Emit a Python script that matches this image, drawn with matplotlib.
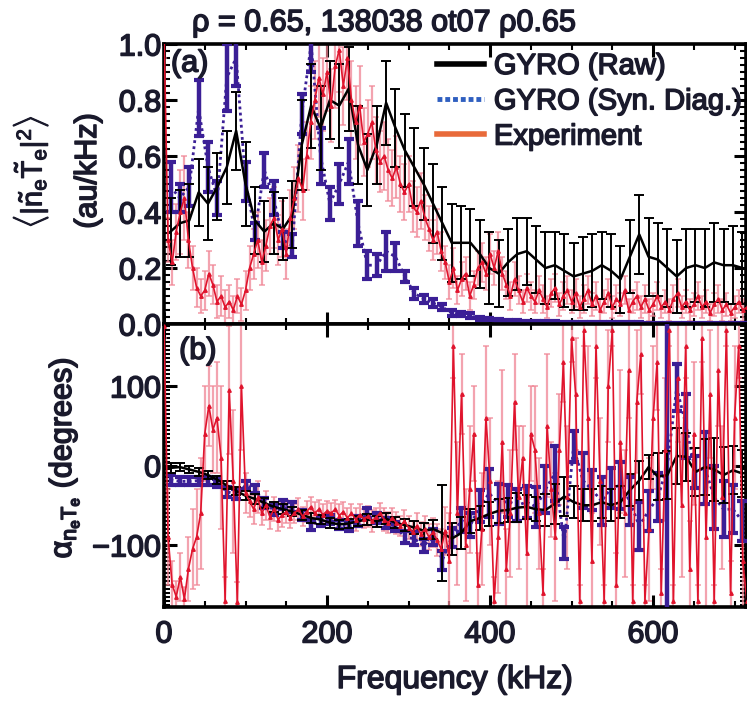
import numpy as np
import matplotlib
matplotlib.use('Agg')
import matplotlib.pyplot as plt
import matplotlib.patheffects as pe
from matplotlib.lines import Line2D
from matplotlib.ticker import MultipleLocator

plt.rcParams['font.family'] = ['Liberation Sans', 'DejaVu Sans']
plt.rcParams['mathtext.fontset'] = 'custom'
plt.rcParams['mathtext.rm'] = 'Liberation Sans'
plt.rcParams['mathtext.it'] = 'Liberation Sans'
plt.rcParams['mathtext.bf'] = 'Liberation Sans:bold'

# ---------------- data ----------------
# GYRO frequency grid (kHz) and experiment frequency grid (kHz)
gyro_freq = 8 + 11.5 * np.arange(62)
exp_freq = 5.0 * np.arange(144)

# panel (a): cross power
raw_a = [0.33, 0.36, 0.37, 0.47, 0.43, 0.49, 0.56, 0.69, 0.50, 0.37,
         0.33, 0.36, 0.34, 0.39, 0.64, 0.78, 0.70, 0.80, 0.78, 0.84,
         0.64, 0.55, 0.64, 0.79, 0.70, 0.62, 0.56, 0.50, 0.43, 0.36,
         0.29, 0.29, 0.29, 0.25, 0.20, 0.18, 0.22, 0.25, 0.26, 0.23,
         0.20, 0.21, 0.19, 0.17, 0.18, 0.19, 0.21, 0.19, 0.16, 0.24,
         0.32, 0.24, 0.23, 0.20, 0.17, 0.20, 0.21, 0.20, 0.22, 0.21,
         0.21, 0.20]
raw_a_err = [0.12, 0.12, 0.13, 0.12, 0.13, 0.12, 0.13, 0.14, 0.15, 0.12,
             0.11, 0.11, 0.11, 0.12, 0.16, 0.15, 0.15, 0.14, 0.15, 0.15,
             0.14, 0.13, 0.14, 0.15, 0.14, 0.13, 0.14, 0.13, 0.14, 0.13,
             0.14, 0.13, 0.12, 0.12, 0.13, 0.12, 0.12, 0.13, 0.12, 0.12,
             0.13, 0.12, 0.13, 0.12, 0.13, 0.13, 0.12, 0.13, 0.12, 0.13,
             0.14, 0.14, 0.13, 0.14, 0.13, 0.14, 0.13, 0.14, 0.14, 0.13,
             0.14, 0.13]
syn_a = [0.49, 0.45, 0.49, 0.77, 0.56, 0.45, 0.88, 0.95, 0.51, 0.33,
         0.55, 0.45, 0.30, 0.28, 0.75, 1.00, 0.60, 0.43, 0.50, 0.58,
         0.36, 0.21, 0.21, 0.26, 0.24, 0.17, 0.11, 0.09, 0.075, 0.06,
         0.04, 0.035, 0.03, 0.02, 0.018, 0.014, 0.012, 0.010, 0.009, 0.008,
         0.007, 0.007, 0.006, 0.006, 0.005, 0.005, 0.005, 0.004, 0.004, 0.004,
         0.004, 0.003, 0.003, 0.003, 0.003, 0.003, 0.003, 0.002, 0.002, 0.002,
         0.002, 0.002]
syn_a_err = [0.09, 0.05, 0.07, 0.10, 0.09, 0.06, 0.12, 0.10, 0.07, 0.03,
             0.06, 0.06, 0.03, 0.04, 0.07, 0.10, 0.10, 0.06, 0.07, 0.08,
             0.08, 0.05, 0.04, 0.07, 0.05, 0.02, 0.02, 0.015, 0.015, 0.01,
             0.01, 0.008, 0.008, 0.006, 0.005, 0.004, 0.004, 0.003, 0.003, 0.003,
             0.002, 0.002, 0.002, 0.002, 0.002, 0.002, 0.002, 0.002, 0.002, 0.002,
             0.002, 0.002, 0.002, 0.002, 0.002, 0.002, 0.002, 0.002, 0.002, 0.002,
             0.002, 0.002]
exp_a = [1.05, 0.30, 0.22, 0.33, 0.40, 0.45, 0.30, 0.20, 0.13, 0.10,
         0.12, 0.18, 0.14, 0.08, 0.10, 0.06, 0.08, 0.05, 0.10, 0.07,
         0.12, 0.20, 0.25, 0.30, 0.22, 0.28, 0.35, 0.38, 0.30, 0.34,
         0.25, 0.38, 0.45, 0.52, 0.48, 0.60, 0.72, 0.80, 0.88, 0.82,
         0.90, 0.78, 0.92, 0.98, 0.85, 0.95, 0.80, 0.72, 0.78, 0.65,
         0.68, 0.72, 0.62, 0.58, 0.60, 0.55, 0.52, 0.56, 0.50, 0.47,
         0.50, 0.42, 0.40, 0.44, 0.38, 0.34, 0.30, 0.33, 0.26, 0.22,
         0.15, 0.20, 0.12, 0.16, 0.18, 0.10, 0.14, 0.20, 0.22, 0.18,
         0.25, 0.20, 0.26, 0.18, 0.14, 0.10, 0.16, 0.12, 0.08, 0.13,
         0.10, 0.08, 0.12, 0.09, 0.06, 0.11, 0.13, 0.07, 0.10, 0.12,
         0.08, 0.11, 0.06, 0.09, 0.12, 0.07, 0.10, 0.05, 0.08, 0.11,
         0.06, 0.09, 0.07, 0.12, 0.05, 0.08, 0.10, 0.06, 0.09, 0.05,
         0.07, 0.10, 0.06, 0.08, 0.05, 0.09, 0.11, 0.06, 0.08, 0.05,
         0.07, 0.10, 0.06, 0.08, 0.04, 0.07, 0.09, 0.05, 0.07, 0.04,
         0.06, 0.08, 0.05, 0.06]
exp_a_err = [0.10, 0.08, 0.08, 0.10, 0.15, 0.15, 0.10, 0.08, 0.07, 0.06,
             0.07, 0.08, 0.07, 0.06, 0.07, 0.06, 0.06, 0.05, 0.06, 0.06,
             0.07, 0.08, 0.09, 0.10, 0.08, 0.09, 0.10, 0.11, 0.09, 0.10,
             0.09, 0.10, 0.11, 0.12, 0.11, 0.12, 0.13, 0.14, 0.14, 0.13,
             0.14, 0.13, 0.15, 0.15, 0.14, 0.15, 0.14, 0.13, 0.14, 0.12,
             0.12, 0.13, 0.12, 0.11, 0.12, 0.11, 0.10, 0.11, 0.10, 0.10,
             0.10, 0.09, 0.09, 0.10, 0.08, 0.08, 0.07, 0.08, 0.07, 0.06,
             0.06, 0.07, 0.05, 0.06, 0.06, 0.05, 0.05, 0.06, 0.07, 0.06,
             0.07, 0.06, 0.07, 0.06, 0.05, 0.05, 0.06, 0.05, 0.04, 0.05,
             0.05, 0.04, 0.05, 0.05, 0.04, 0.05, 0.05, 0.04, 0.05, 0.05,
             0.04, 0.05, 0.04, 0.05, 0.05, 0.04, 0.05, 0.04, 0.04, 0.05,
             0.04, 0.05, 0.04, 0.05, 0.04, 0.04, 0.05, 0.04, 0.05, 0.04,
             0.04, 0.05, 0.04, 0.04, 0.04, 0.05, 0.05, 0.04, 0.04, 0.04,
             0.04, 0.05, 0.04, 0.04, 0.03, 0.04, 0.05, 0.04, 0.04, 0.03,
             0.04, 0.04, 0.04, 0.04]

# panel (b): cross phase (degrees)
raw_b = [-3, -2, -5, -8, -12, -18, -25, -32, -38, -42,
         -47, -52, -55, -58, -62, -66, -68, -72, -74, -73,
         -70, -68, -70, -67, -72, -75, -78, -82, -80, -85,
         -92, -85, -70, -66, -61, -57, -56, -53, -52, -55,
         -56, -48, -39, -46, -50, -50, -46, -50, -46, -31,
         -19, -2, -14, -12, 12, 11, -8, -2, -5, -12,
         -6, -10]
raw_b_err = [6, 5, 5, 5, 5, 5, 5, 5, 6, 6,
             6, 6, 6, 6, 6, 6, 6, 6, 6, 6,
             6, 7, 7, 7, 7, 8, 8, 10, 12, 60,
             20, 20, 15, 15, 15, 15, 15, 18, 15, 15,
             20, 25, 25, 20, 20, 20, 20, 20, 20, 20,
             25, 15, 30, 30, 35, 30, 30, 35, 40, 35,
             30, 30]
syn_b = [-18, -20, -20, -19, -20, -22, -33, -36, -25, -30,
         -47, -56, -49, -52, -62, -75, -70, -68, -74, -77,
         -70, -60, -66, -72, -77, -90, -92, -101, -90, -119,
         -90, -69, -75, -51, -35, -48, -45, -50, -46, -52,
         -30, -10, -97, 24, -19, -31, -45, -28, -25, -45,
         -76, -57, -40, 0, 98, 50, -8, -3, -40, -55,
         -55, -70]
syn_b_err = [6, 5, 5, 5, 5, 5, 6, 6, 5, 5,
             6, 6, 6, 6, 6, 6, 6, 6, 6, 6,
             6, 6, 6, 6, 6, 7, 8, 8, 10, 12,
             12, 15, 15, 20, 30, 25, 20, 20, 20, 25,
             30, 35, 20, 20, 35, 25, 30, 25, 30, 30,
             30, 25, 30, 190, 30, 40, 20, 45, 40, 35,
             30, 25]
exp_b = [175, -90, -150, -165, -140, -168, -130, -105, -90, -60,
         40, 75, 45, 60, 10, -170, 95, -20, -172, 100,
         -35, -45, -55, -40, -60, -50, -65, -55, -68, -62,
         -58, -66, -60, -55, -64, -58, -52, -60, -55, -62,
         -57, -60, -55, -63, -58, -66, -60, -68, -62, -67,
         -64, -70, -65, -60, -68, -72, -66, -72, -76, -70,
         -78, -84, -76, -86, -80, -90, -84, -94, -105, -82,
         -120, 150, -60, 90, -100, -30, 40, -150, -80, 60,
         -20, -170, -90, 30, -130, -60, 80, -40, 10, -110,
         40, 20, -60, -160, 50, -30, -90, 20, 130, -40,
         160, 90, -170, 170, 60, -120, 150, -20, -170, 100,
         170, -150, 30, -60, 120, -170, 80, 140, -170, -80,
         60, 130, -160, 20, 170, -170, 110, -50, 150, -130,
         40, -170, 160, -90, 90, -170, 120, -40, 170, -160,
         60, 150, -120, -170]
exp_b_err = [15, 60, 30, 20, 30, 15, 40, 50, 60, 70,
             60, 50, 55, 70, 90, 30, 80, 90, 25, 80,
             25, 20, 18, 20, 15, 18, 15, 15, 14, 15,
             14, 13, 12, 14, 12, 13, 12, 14, 12, 13,
             12, 13, 12, 14, 12, 13, 12, 14, 13, 12,
             13, 14, 12, 13, 14, 13, 12, 14, 13, 14,
             15, 14, 16, 15, 17, 16, 18, 20, 25, 30,
             60, 40, 90, 50, 70, 80, 60, 40, 70, 90,
             80, 30, 70, 90, 50, 80, 60, 90, 40, 70,
             60, 80, 70, 30, 90, 60, 80, 70, 50, 90,
             30, 70, 20, 20, 90, 60, 40, 80, 20, 70,
             20, 40, 90, 80, 60, 20, 90, 50, 20, 90,
             90, 60, 30, 90, 20, 20, 80, 90, 40, 60,
             90, 20, 30, 90, 80, 20, 70, 90, 20, 40,
             90, 40, 70, 20]

legend_labels = ['GYRO (Raw)', 'GYRO (Syn. Diag.)', 'Experiment']
x_ticks = [0, 200, 400, 600]
ya_ticks = [0.0, 0.2, 0.4, 0.6, 0.8, 1.0]
yb_ticks = [-100, 0, 100]

# ---------------- style ----------------
TXT = '#1a1a2c'
RED = '#e0142d'
PINK = '#f08594'
BLUE = '#3b1f96'
W, H = 747, 704
HEAVY = [pe.withStroke(linewidth=1.1, foreground=TXT)]

fig = plt.figure(figsize=(W / 100, H / 100), dpi=100)
L, R = 164, 746
ax_a = fig.add_axes([L / W, 1 - 324 / H, (R - L) / W, 280 / H])
ax_b = fig.add_axes([L / W, 1 - 607 / H, (R - L) / W, 283 / H])


def draw(ax, ey, eerr, gy_raw, gy_raw_err, gy_syn, gy_syn_err):
    ax.errorbar(exp_freq, ey, yerr=eerr, fmt='none', ecolor=PINK, alpha=0.75,
                elinewidth=1.6, capsize=2.5, capthick=1.2, zorder=2)
    ax.errorbar(gyro_freq, gy_syn, yerr=gy_syn_err, fmt='none', ecolor=BLUE,
                elinewidth=3.2, capsize=3.5, capthick=3.0, zorder=3)
    ax.plot(gyro_freq, gy_syn, color=BLUE, lw=2.0, ls=(0, (1, 1.2)), zorder=3)
    ax.errorbar(gyro_freq, gy_raw, yerr=gy_raw_err, fmt='none', ecolor='black',
                elinewidth=1.4, capsize=3.5, capthick=1.4, zorder=4)
    ax.plot(gyro_freq, gy_raw, color='black', lw=1.8, zorder=4)
    ax.plot(exp_freq, ey, color=RED, lw=1.2, marker='^', ms=2.5, zorder=5)


draw(ax_a, exp_a, exp_a_err, raw_a, raw_a_err, syn_a, syn_a_err)
draw(ax_b, exp_b, exp_b_err, raw_b, raw_b_err, syn_b, syn_b_err)

ax_a.set_xlim(0, 714)
ax_b.set_xlim(0, 714)
ax_a.set_ylim(0.0, 1.0)
ax_b.set_ylim(-178, 178)

for ax in (ax_a, ax_b):
    ax.set_xticks(x_ticks)
    ax.xaxis.set_minor_locator(MultipleLocator(50))
    ax.tick_params(which='both', direction='in', top=True, right=True,
                   colors='black', labelcolor=TXT, labelsize=22)
    ax.tick_params(which='major', length=9, width=2.2)
    ax.tick_params(which='minor', length=4.5, width=1.5)
    ax.tick_params(axis='y', pad=2)
    for s in ax.spines.values():
        s.set_linewidth(2.6)

ax_a.set_yticks(ya_ticks)
ax_a.set_yticklabels(['%.1f' % v for v in ya_ticks])
ax_a.yaxis.set_minor_locator(MultipleLocator(0.025))
ax_a.tick_params(axis='x', labelbottom=False)
ax_b.set_yticks(yb_ticks)
ax_b.yaxis.set_minor_locator(MultipleLocator(5))
ax_b.tick_params(axis='x', pad=9)

for ax in (ax_a, ax_b):
    for lab in ax.get_xticklabels() + ax.get_yticklabels():
        lab.set_path_effects(HEAVY)

ax_a.text(0.012, 0.93, '(a)', transform=ax_a.transAxes, fontsize=22,
          color=TXT, va='center', ha='left', path_effects=HEAVY)
ax_b.text(0.026, 0.905, '(b)', transform=ax_b.transAxes, fontsize=22,
          color=TXT, va='center', ha='left', path_effects=HEAVY)

handles = [Line2D([], [], color='black', lw=4),
           Line2D([], [], color='#2f5fc0', lw=3.5, ls=(0, (1, 0.6))),
           Line2D([], [], color='#e86a3a', lw=4)]
leg = ax_a.legend(handles, legend_labels, loc='upper left',
                  bbox_to_anchor=(437 / W, 1 - 52 / H), bbox_transform=fig.transFigure,
                  frameon=False, fontsize=21, handlelength=1.6, handletextpad=0.35,
                  labelspacing=0.25, borderpad=0, borderaxespad=0)
for t in leg.get_texts():
    t.set_color(TXT)
    t.set_path_effects(HEAVY)

fig.text(384 / W, 1 - 23 / H, r'ρ = 0.65, 138038 ot07 ρ0.65', fontsize=22,
         ha='center', va='center', color=TXT, path_effects=HEAVY)
fig.text(455 / W, 1 - 680 / H, 'Frequency (kHz)', fontsize=23,
         ha='center', va='center', color=TXT, path_effects=HEAVY)
fig.text(31 / W, 1 - 172 / H, r'$\langle|\tilde{\mathrm{n}}_\mathrm{e}\tilde{\mathrm{T}}_\mathrm{e}|^2\rangle$',
         fontsize=21, rotation=90, ha='center', va='center', color=TXT,
         path_effects=[pe.withStroke(linewidth=0.8, foreground=TXT)])
fig.text(88 / W, 1 - 171 / H, '(au/kHz)', fontsize=22, rotation=90,
         ha='center', va='center', color=TXT, path_effects=HEAVY)
fig.text(64 / W, 1 - 458 / H, r'$\alpha_{\mathrm{n_eT_e}}$ (degrees)', fontsize=22,
         rotation=90, ha='center', va='center', color=TXT, path_effects=HEAVY)

fig.savefig('out.png', dpi=100)
